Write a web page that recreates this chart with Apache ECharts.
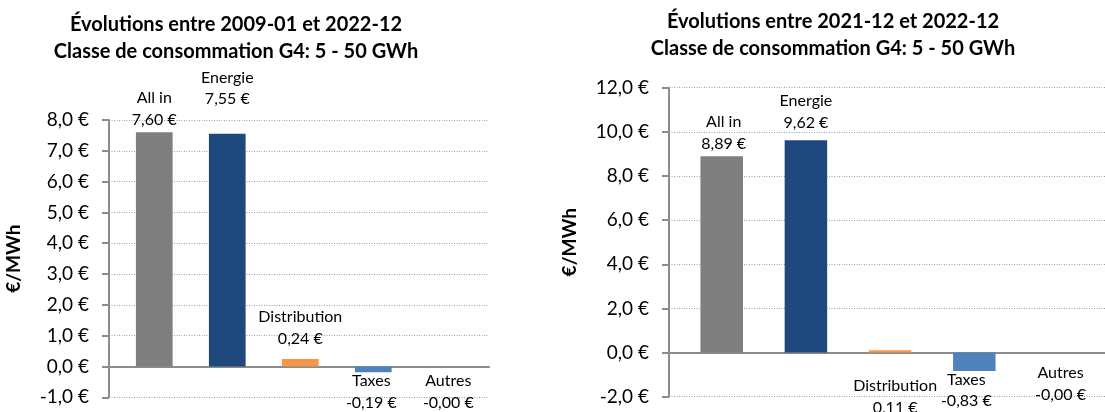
<!DOCTYPE html>
<html>
<head>
<meta charset="utf-8">
<script src="https://cdn.jsdelivr.net/npm/echarts@6/dist/echarts.min.js"></script>
<style>
  html, body { margin: 0; padding: 0; background: #fff; }
  #chart { width: 1105px; height: 412px; }
</style>
</head>
<body>
<div id="chart"></div>
<script>
// ---- data ----
const categories = ['All in', 'Energie', 'Distribution', 'Taxes', 'Autres'];
const valuesLong = [7.60, 7.55, 0.24, -0.19, -0.001];   // 2009-01 -> 2022-12
const valuesShort = [8.89, 9.62, 0.11, -0.83, -0.001];  // 2021-12 -> 2022-12
const titleLeft = 'Évolutions entre 2009-01 et 2022-12\nClasse de consommation G4: 5 - 50 GWh';
const titleRight = 'Évolutions entre 2021-12 et 2022-12\nClasse de consommation G4: 5 - 50 GWh';
const yTicksLeft = { min: -1, max: 8, interval: 1 };
const yTicksRight = { min: -2, max: 12, interval: 2 };
const unitName = '€/MWh';

// ---- styling ----
const FONT = 'Lato';
const barColors = ['#7F7F7F', '#1F497D', '#F79646', '#4F81BD', '#8064A2'];
const gridColor = '#A0A0A0';
const axisColor = '#8C8C8C';
// label placement (styling only): position + [dx, dy]
const labelLeft = [
  { pos: 'top', off: [0, 0] }, { pos: 'top', off: [0, -22] }, { pos: 'top', off: [0, -8] },
  { pos: 'bottom', off: [-2, -4] }, { pos: 'bottom', off: [2, 2] }
];
const labelRight = [
  { pos: 'top', off: [2, 0] }, { pos: 'top', off: [0, -5] }, { pos: 'bottom', off: [5, 21] },
  { pos: 'bottom', off: [-8, -4] }, { pos: 'bottom', off: [2, 8] }
];

function fmtVal(v) { return v.toFixed(2).replace('.', ',') + ' €'; }
function fmtAxis(v) { return v.toFixed(1).replace('.', ',') + ' €'; }

function makeSeries(values, idx, barWidth, placement) {
  return {
    type: 'bar',
    xAxisIndex: idx, yAxisIndex: idx,
    barWidth: barWidth,
    data: values.map((v, i) => ({
      value: [i, v],
      itemStyle: { color: barColors[i] },
      label: {
        show: true,
        position: placement[i].pos,
        distance: 2,
        offset: placement[i].off,
        formatter: categories[i] + '\n' + fmtVal(v),
        fontFamily: FONT, fontSize: 16, lineHeight: 21.5,
        color: '#000', align: 'center'
      }
    })),
    animation: false
  };
}

function makeY(idx, ticks, gap) {
  return {
    type: 'value', gridIndex: idx,
    min: ticks.min, max: ticks.max, interval: ticks.interval,
    name: unitName, nameLocation: 'middle', nameRotate: 90, nameGap: gap,
    nameTextStyle: { fontFamily: FONT, fontWeight: 'bold', fontSize: 19, color: '#000' },
    axisLine: { show: true, onZero: false, lineStyle: { color: axisColor, width: 2 } },
    axisTick: { show: true, length: 7, lineStyle: { color: axisColor, width: 2 } },
    axisLabel: { formatter: fmtAxis, fontFamily: FONT, fontSize: 19, color: '#000', margin: 20 },
    splitLine: { show: true, lineStyle: { color: gridColor, type: [1, 1.5], width: 1 } }
  };
}

function makeX(idx, min, max) {
  return {
    type: 'value', gridIndex: idx, min: min, max: max,
    axisLine: { show: true, onZero: true, lineStyle: { color: axisColor, width: 2 } },
    axisTick: { show: false }, axisLabel: { show: false }, splitLine: { show: false }
  };
}

const chart = echarts.init(document.getElementById('chart'), null, { renderer: 'canvas' });
chart.setOption({
  animation: false,
  title: [
    { text: titleLeft, left: 236, top: 11, textAlign: 'center', padding: 0,
      textStyle: { fontFamily: FONT, fontWeight: 'bold', fontSize: 20, lineHeight: 27, color: '#000' } },
    { text: titleRight, left: 833, top: 8, textAlign: 'center', padding: 0,
      textStyle: { fontFamily: FONT, fontWeight: 'bold', fontSize: 20, lineHeight: 27, color: '#000' } }
  ],
  grid: [
    { left: 109, top: 120, width: 380, bottom: 14.7, containLabel: false },
    { left: 669, top: 87.7, right: 0, bottom: 15.3, containLabel: false }
  ],
  xAxis: [makeX(0, -0.62, 4.585), makeX(1, -0.626, 4.552)],
  yAxis: [makeY(0, yTicksLeft, 86), makeY(1, yTicksRight, 90)],
  series: [
    makeSeries(valuesLong, 0, 36.7, labelLeft),
    makeSeries(valuesShort, 1, 42.5, labelRight)
  ]
});
</script>
</body>
</html>
